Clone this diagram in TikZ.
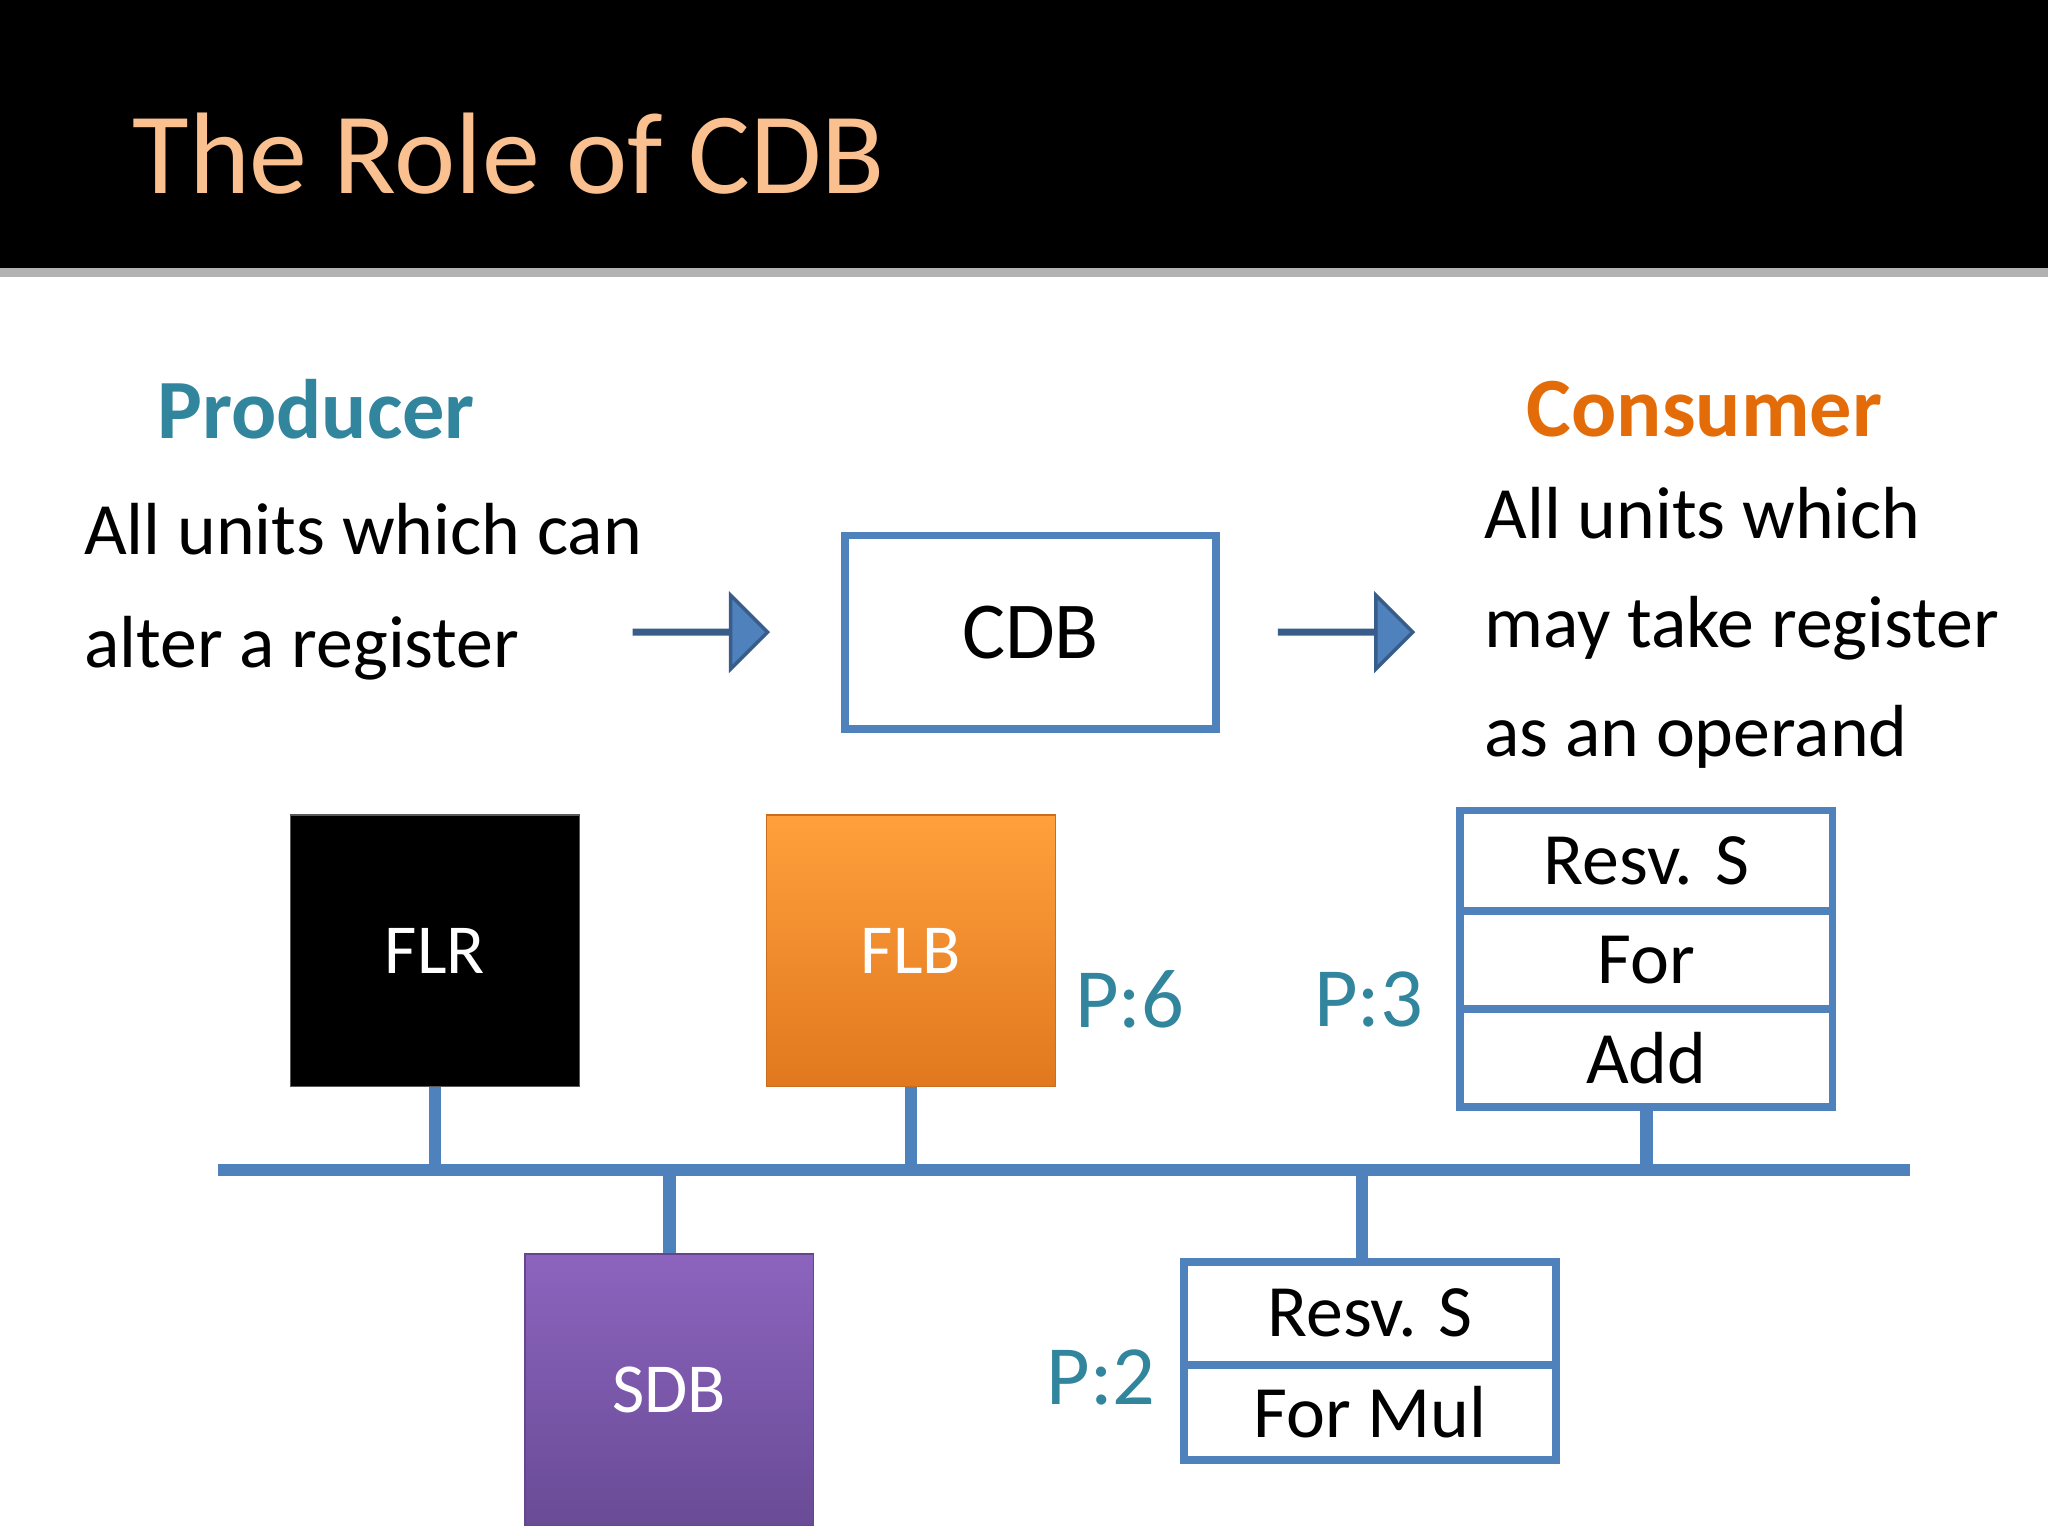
\documentclass[tikz,border=0pt]{standalone}
\usepackage{fontspec}
\setmainfont{Carlito}
\usetikzlibrary{shapes.arrows}
\definecolor{bl}{HTML}{4F81BD}
\definecolor{bld}{HTML}{385D8A}
\definecolor{teal}{HTML}{31859C}
\definecolor{org}{HTML}{E36C09}
\begin{document}
\begin{tikzpicture}[x=0.013061cm,y=-0.013061cm,
  outbox/.style={draw=bl,line width=2.2pt,fill=white,minimum width=285*0.013061cm,inner sep=0pt},
  sq/.style={minimum width=221*0.013061cm,minimum height=208*0.013061cm,text=white,font=\fontsize{20}{24}\selectfont,inner sep=0pt},
  bus/.style={draw=bl,line width=3.5pt},
  barr/.style={single arrow,fill=bl,draw=bld,line width=1pt,minimum height=102*0.013061cm,single arrow head extend=27*0.013061cm,minimum width=51*0.013061cm,inner sep=0pt,shape border rotate=0},
  ptxt/.style={text=teal,font=\fontsize{24}{28}\selectfont},
  body/.style={font=\fontsize{21}{32}\selectfont,align=left,anchor=west}]
\useasboundingbox (0,0) rectangle (1568,1176);
\fill[white] (0,0) rectangle (1568,1176);
\fill[black] (0,0) rectangle (1568,205);
\fill[gray!60] (0,205) rectangle (1568,212);
\node[anchor=west,text={rgb,255:red,250;green,192;blue,144},font=\fontsize{33}{38}\selectfont] (title) at (92,118) {The Role of CDB};
\node[text=teal,font=\bfseries\fontsize{24}{28}\selectfont] (prod) at (242,313) {Producer};
\node[text=org,font=\bfseries\fontsize{24}{28}\selectfont] (cons) at (1305,313) {Consumer};
\node[body] (ptext) at (55,453) {All units which can\\alter a register};
\node[body,font=\fontsize{21}{31}\selectfont] (ctext) at (1127,481) {All units which\\may take register\\as an operand};
\node[barr] (a1) at (536,484) {};
\node[barr] (a2) at (1030,484) {};
\node[outbox,minimum width=284*0.013061cm,minimum height=148*0.013061cm,font=\fontsize{23}{28}\selectfont] (cdb) at (789,484) {CDB};
\node[sq,fill=black,draw=gray!70!black] (flr) at (333,728) {FLR};
\shade[top color={rgb,255:red,255;green,160;blue,60},bottom color={rgb,255:red,225;green,120;blue,30}] (587,624) rectangle (808,832);
\node[sq,draw={rgb,255:red,200;green,110;blue,30}] (flb) at (697.5,728) {FLB};
\shade[top color={rgb,255:red,140;green,100;blue,190},bottom color={rgb,255:red,105;green,75;blue,150}] (402,960) rectangle (623,1168);
\node[sq,draw={rgb,255:red,100;green,70;blue,140}] (sdb) at (512.5,1064) {SDB};
\node[ptxt] (p6) at (865,765) {P:6};
\node[ptxt] (p3) at (1048,765) {P:3};
\node[ptxt] (p2) at (843,1055) {P:2};
\begin{scope}[font=\fontsize{21}{25}\selectfont]
\node[outbox,minimum height=77*0.013061cm] (r1) at (1260.5,659) {Resv. S};
\node[outbox,minimum height=75*0.013061cm] (r2) at (1260.5,735) {For};
\node[outbox,minimum height=75*0.013061cm] (r3) at (1260.5,810) {Add};
\node[outbox,minimum height=79*0.013061cm] (m1) at (1049,1005.5) {Resv. S};
\node[outbox,minimum height=73*0.013061cm] (m2) at (1049,1081.5) {For Mul};
\end{scope}
\coordinate (bl) at (167,896); \coordinate (br) at (1462,896);
\draw[bus] (bl) -- (br);
\draw[bus] (flr.south) -- (flr.south |- bl);
\draw[bus] (flb.south) -- (flb.south |- bl);
\draw[bus] (r3.south) -- (r3.south |- bl);
\draw[bus] (sdb.north) -- (sdb.north |- bl);
\draw[bus] (1043,966) -- (1043,896);
\end{tikzpicture}
\end{document}
